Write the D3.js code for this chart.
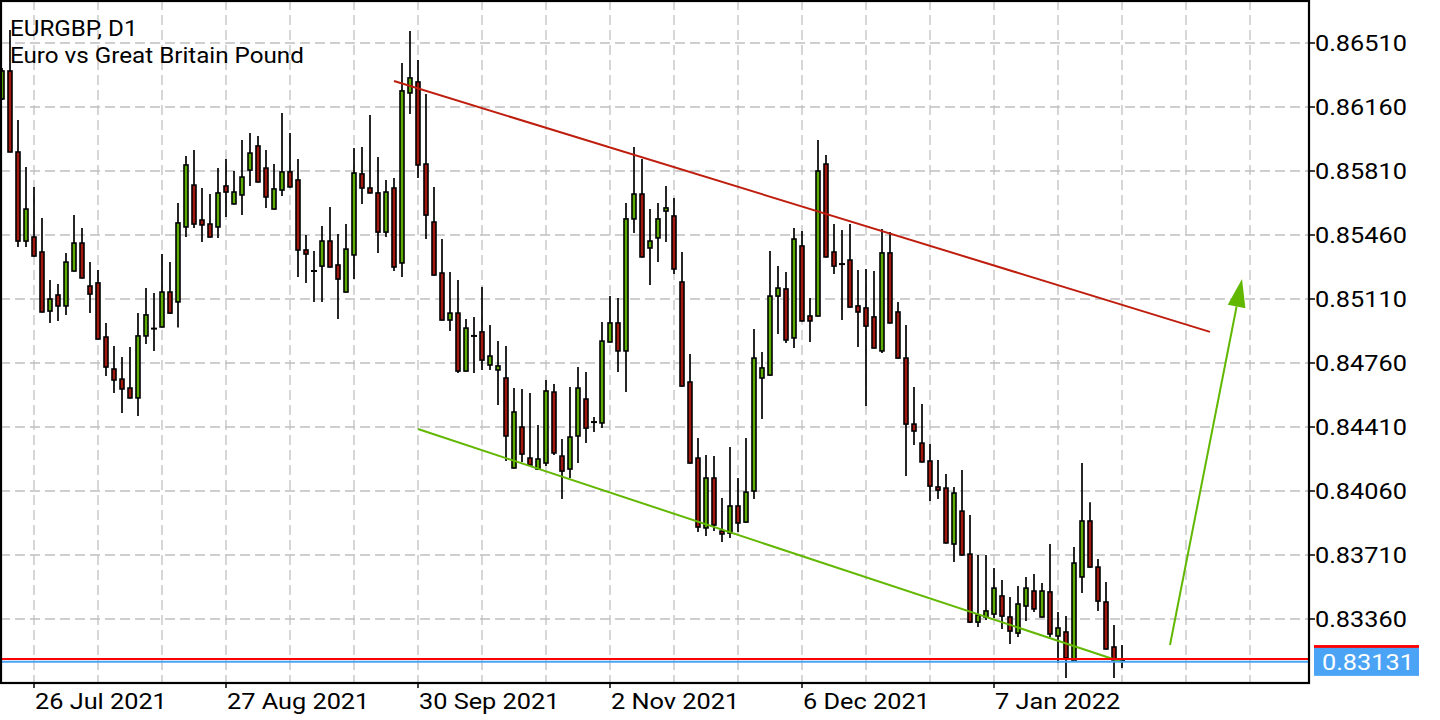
<!DOCTYPE html>
<html>
<head>
<meta charset="utf-8">
<script src="https://cdn.jsdelivr.net/npm/d3@7"></script>
<style>
  body { margin: 0; background: #fff; }
  text { font-family: Roboto, "Noto Sans", sans-serif; }
</style>
</head>
<body>
<svg id="chart" width="1440" height="720"></svg>
<script>
// EURGBP D1 candles
const opens = [
  0.86204, 0.86357, 0.85914, 0.85427, 0.85449, 0.85367, 0.85044, 0.85132, 0.85072, 0.85263,
  0.85416, 0.85181, 0.85198, 0.84902, 0.84727, 0.84672, 0.84623, 0.84569, 0.84908, 0.84948,
  0.84957, 0.85148, 0.85094, 0.85504, 0.85733, 0.85542, 0.85520, 0.85504, 0.85728, 0.85630,
  0.85679, 0.85815, 0.85947, 0.85826, 0.85602, 0.85706, 0.85805, 0.85761, 0.85378, 0.85263,
  0.85290, 0.85427, 0.85296, 0.85148, 0.85351, 0.85794, 0.85717, 0.85690, 0.85476, 0.85717,
  0.85307, 0.86237, 0.86297, 0.85848, 0.85531, 0.85252, 0.84995, 0.85033, 0.84716, 0.84908,
  0.84930, 0.84749, 0.84722, 0.84678, 0.84186, 0.84410, 0.84240, 0.84180, 0.84213, 0.84601,
  0.84251, 0.84180, 0.84361, 0.84563, 0.84437, 0.84432, 0.84875, 0.84979, 0.84826, 0.85548,
  0.85684, 0.85389, 0.85444, 0.85591, 0.85564, 0.85203, 0.84656, 0.84240, 0.83858, 0.84131,
  0.83841, 0.83830, 0.83978, 0.83890, 0.84060, 0.84678, 0.84694, 0.85126, 0.85165, 0.84897,
  0.85400, 0.85017, 0.85017, 0.85848, 0.85367, 0.85301, 0.85323, 0.85072, 0.85061, 0.85012,
  0.84826, 0.85362, 0.85039, 0.84787, 0.84426, 0.84322, 0.84224, 0.84082, 0.84076, 0.83770,
  0.83950, 0.83715, 0.83343, 0.83371, 0.83387, 0.83486, 0.83371, 0.83283, 0.83431, 0.83513,
  0.83371, 0.83508, 0.83267, 0.83289, 0.83130, 0.83590, 0.83896, 0.83644, 0.83453, 0.83207,
  0.83131
];
const highs = [
  0.86373, 0.86581, 0.86089, 0.85832, 0.85723, 0.85553, 0.85214, 0.85192, 0.85362, 0.85569,
  0.85498, 0.85312, 0.85269, 0.84979, 0.84853, 0.84793, 0.84848, 0.85033, 0.85170, 0.85143,
  0.85356, 0.85312, 0.85635, 0.85892, 0.85925, 0.85717, 0.85684, 0.85826, 0.85876, 0.85810,
  0.85980, 0.86018, 0.86001, 0.85925, 0.85848, 0.86127, 0.86018, 0.85876, 0.85460, 0.85373,
  0.85509, 0.85613, 0.85466, 0.85520, 0.85936, 0.85941, 0.86116, 0.85887, 0.85761, 0.85772,
  0.86401, 0.86576, 0.86417, 0.86231, 0.85723, 0.85438, 0.85258, 0.85214, 0.85001, 0.85012,
  0.85176, 0.84968, 0.84880, 0.84853, 0.84623, 0.84618, 0.84596, 0.84421, 0.84667, 0.84645,
  0.84344, 0.84629, 0.84738, 0.84711, 0.84465, 0.84984, 0.85126, 0.85115, 0.85635, 0.85941,
  0.85876, 0.85602, 0.85635, 0.85728, 0.85662, 0.85367, 0.84809, 0.84350, 0.84257, 0.84251,
  0.84022, 0.84301, 0.84131, 0.84350, 0.84946, 0.84820, 0.85373, 0.85290, 0.85258, 0.85498,
  0.85482, 0.85115, 0.85980, 0.85898, 0.85520, 0.85487, 0.85520, 0.85269, 0.85274, 0.85263,
  0.85493, 0.85476, 0.85094, 0.84968, 0.84629, 0.84536, 0.84317, 0.84230, 0.84153, 0.84082,
  0.84175, 0.83929, 0.83710, 0.83710, 0.83639, 0.83573, 0.83480, 0.83540, 0.83590, 0.83606,
  0.83557, 0.83770, 0.83398, 0.83376, 0.83754, 0.84213, 0.83999, 0.83688, 0.83562, 0.83327,
  0.83218
];
const lows = [
  0.86198, 0.85912, 0.85394, 0.85394, 0.85342, 0.85036, 0.84979, 0.84990, 0.85023, 0.85260,
  0.85222, 0.85033, 0.84888, 0.84689, 0.84596, 0.84487, 0.84566, 0.84470, 0.84864, 0.84826,
  0.84954, 0.85030, 0.84954, 0.85449, 0.85498, 0.85422, 0.85446, 0.85444, 0.85558, 0.85627,
  0.85569, 0.85728, 0.85747, 0.85608, 0.85599, 0.85673, 0.85720, 0.85230, 0.85198, 0.85094,
  0.85094, 0.85282, 0.85001, 0.85145, 0.85219, 0.85630, 0.85687, 0.85362, 0.85449, 0.85263,
  0.85230, 0.86122, 0.85772, 0.85438, 0.85238, 0.84992, 0.84935, 0.84705, 0.84713, 0.84705,
  0.84722, 0.84722, 0.84530, 0.84224, 0.84183, 0.84219, 0.84199, 0.84175, 0.84197, 0.84257,
  0.84016, 0.84131, 0.84213, 0.84322, 0.84383, 0.84404, 0.84872, 0.84711, 0.84601, 0.85471,
  0.85337, 0.85187, 0.85312, 0.85422, 0.85247, 0.84631, 0.84210, 0.83836, 0.83814, 0.83841,
  0.83781, 0.83803, 0.83836, 0.83887, 0.84016, 0.84454, 0.84691, 0.84919, 0.84869, 0.84842,
  0.84987, 0.84875, 0.85014, 0.85337, 0.85247, 0.84995, 0.85063, 0.84848, 0.84525, 0.84839,
  0.84815, 0.84976, 0.84784, 0.84142, 0.84312, 0.84216, 0.84005, 0.84016, 0.83773, 0.83672,
  0.83707, 0.83340, 0.83316, 0.83354, 0.83365, 0.83305, 0.83223, 0.83261, 0.83349, 0.83398,
  0.83368, 0.83261, 0.83119, 0.83037, 0.83127, 0.83502, 0.83641, 0.83404, 0.83193, 0.83037,
  0.83092
];
const closes = [
  0.86357, 0.85914, 0.85427, 0.85602, 0.85345, 0.85039, 0.85110, 0.85072, 0.85312, 0.85416,
  0.85225, 0.85137, 0.84891, 0.84738, 0.84667, 0.84618, 0.84569, 0.84908, 0.85023, 0.84948,
  0.85148, 0.85033, 0.85526, 0.85843, 0.85520, 0.85515, 0.85449, 0.85690, 0.85695, 0.85695,
  0.85777, 0.85908, 0.85750, 0.85668, 0.85712, 0.85805, 0.85723, 0.85378, 0.85356, 0.85263,
  0.85427, 0.85285, 0.85219, 0.85383, 0.85799, 0.85717, 0.85690, 0.85476, 0.85695, 0.85285,
  0.86248, 0.86319, 0.85843, 0.85569, 0.85241, 0.84995, 0.85033, 0.84716, 0.84951, 0.84908,
  0.84776, 0.84798, 0.84744, 0.84361, 0.84492, 0.84262, 0.84202, 0.84235, 0.84607, 0.84268,
  0.84169, 0.84355, 0.84623, 0.84404, 0.84437, 0.84880, 0.84979, 0.84826, 0.85548, 0.85684,
  0.85340, 0.85427, 0.85548, 0.85608, 0.85274, 0.84634, 0.84213, 0.83863, 0.84131, 0.83874,
  0.83825, 0.83978, 0.83885, 0.84054, 0.84787, 0.84733, 0.85126, 0.85170, 0.84886, 0.85438,
  0.84990, 0.84990, 0.85810, 0.85340, 0.85290, 0.85301, 0.85066, 0.85039, 0.84962, 0.84842,
  0.85362, 0.84979, 0.84787, 0.84426, 0.84388, 0.84219, 0.84087, 0.84065, 0.83776, 0.84049,
  0.83710, 0.83343, 0.83382, 0.83404, 0.83529, 0.83376, 0.83294, 0.83442, 0.83529, 0.83415,
  0.83513, 0.83278, 0.83311, 0.83147, 0.83666, 0.83896, 0.83644, 0.83458, 0.83196, 0.83136,
  0.83131
];

const priceTicks = [0.86510, 0.86160, 0.85810, 0.85460, 0.85110, 0.84760, 0.84410, 0.84060, 0.83710, 0.83360];
const dateTickBars = [4, 28, 52, 76, 100, 124];
const dateTickLabels = ["26 Jul 2021", "27 Aug 2021", "30 Sep 2021", "2 Nov 2021", "6 Dec 2021", "7 Jan 2022"];

const bid = 0.83131;
const ask = 0.83141;

// drawn objects: [bar, price] pairs
const resistance = [[49, 0.86302], [151, 0.84930]];
const support = [[52, 0.84399], [140, 0.83125]];
const arrowLine = [[146, 0.83218], [155, 0.85219]];

const W = 1440, H = 720;
const plotRight = 1309, plotBottom = 683;
const upColor = "#5cad00", downColor = "#a3190f";
const stretch = "scale(1.15,1)"; // terminal font is rendered wide

const svg = d3.select("#chart");

const x = d3.scaleLinear().domain([0, 140]).range([2, 1122]);
const y = d3.scaleLinear().domain([0.83360, 0.86510]).range([619, 43]);

svg.append("defs").append("clipPath").attr("id", "plot")
  .append("rect").attr("x", 1).attr("y", 1)
  .attr("width", plotRight - 1).attr("height", plotBottom - 1);

const plot = svg.append("g").attr("clip-path", "url(#plot)");

// grid
const gridBars = d3.range(4, 160, 8);
plot.selectAll(".vgrid").data(gridBars).enter().append("line")
  .attr("x1", d => x(d)).attr("x2", d => x(d))
  .attr("y1", 0).attr("y2", plotBottom)
  .attr("stroke", "#c0c0c0").attr("stroke-width", 1.3)
  .attr("stroke-dasharray", "10,5");

plot.selectAll(".hgrid").data(priceTicks).enter().append("line")
  .attr("x1", 0).attr("x2", plotRight)
  .attr("y1", d => y(d)).attr("y2", d => y(d))
  .attr("stroke", "#c0c0c0").attr("stroke-width", 1.3)
  .attr("stroke-dasharray", "10,5");

// candles
const bars = opens.map((o, i) => ({ i, o, h: highs[i], l: lows[i], c: closes[i] }));

const candle = plot.selectAll(".candle").data(bars).enter().append("g");

candle.append("line")
  .attr("x1", d => x(d.i)).attr("x2", d => x(d.i))
  .attr("y1", d => y(d.h)).attr("y2", d => y(d.l))
  .attr("stroke", "#000").attr("stroke-width", 1.7);

candle.filter(d => d.o !== d.c).append("rect")
  .attr("x", d => x(d.i) - 2)
  .attr("width", 4)
  .attr("y", d => y(Math.max(d.o, d.c)))
  .attr("height", d => Math.abs(y(d.o) - y(d.c)))
  .attr("fill", d => d.c > d.o ? upColor : downColor)
  .attr("stroke", "#000").attr("stroke-width", 1.6);

candle.filter(d => d.o === d.c).append("line")
  .attr("x1", d => x(d.i) - 3).attr("x2", d => x(d.i) + 3)
  .attr("y1", d => y(d.o)).attr("y2", d => y(d.o))
  .attr("stroke", "#000").attr("stroke-width", 2);

// trend lines
const pt = p => [x(p[0]), y(p[1])];

plot.append("line")
  .attr("x1", pt(resistance[0])[0]).attr("y1", pt(resistance[0])[1])
  .attr("x2", pt(resistance[1])[0]).attr("y2", pt(resistance[1])[1])
  .attr("stroke", "#be1e0e").attr("stroke-width", 2);

plot.append("line")
  .attr("x1", pt(support[0])[0]).attr("y1", pt(support[0])[1])
  .attr("x2", pt(support[1])[0]).attr("y2", pt(support[1])[1])
  .attr("stroke", "#62b800").attr("stroke-width", 2);

// arrow
const [a0, a1] = arrowLine.map(pt);
const len = Math.hypot(a1[0] - a0[0], a1[1] - a0[1]);
const ux = (a1[0] - a0[0]) / len, uy = (a1[1] - a0[1]) / len;
const headLen = 28, headHalf = 9;
const bx = a1[0] - ux * headLen, by = a1[1] - uy * headLen;

plot.append("line")
  .attr("x1", a0[0]).attr("y1", a0[1])
  .attr("x2", bx).attr("y2", by)
  .attr("stroke", "#62b800").attr("stroke-width", 2);

plot.append("path")
  .attr("d", d3.line()([
    a1,
    [bx - uy * headHalf, by + ux * headHalf],
    [bx + uy * headHalf, by - ux * headHalf]
  ]) + "Z")
  .attr("fill", "#62b800");

// bid / ask lines
plot.append("line")
  .attr("x1", 0).attr("x2", plotRight)
  .attr("y1", y(ask)).attr("y2", y(ask))
  .attr("stroke", "#ff0000").attr("stroke-width", 2);

plot.append("line")
  .attr("x1", 0).attr("x2", plotRight)
  .attr("y1", y(bid) + 1).attr("y2", y(bid) + 1)
  .attr("stroke", "#4aa3f5").attr("stroke-width", 2);

// frame
svg.append("rect")
  .attr("x", 1).attr("y", 1)
  .attr("width", plotRight - 1).attr("height", plotBottom - 1)
  .attr("fill", "none").attr("stroke", "#000").attr("stroke-width", 2.2);

// price axis
svg.selectAll(".ptick").data(priceTicks).enter().append("line")
  .attr("x1", plotRight).attr("x2", plotRight + 6)
  .attr("y1", d => y(d)).attr("y2", d => y(d))
  .attr("stroke", "#000").attr("stroke-width", 1.5);

svg.selectAll(".plabel").data(priceTicks).enter().append("text")
  .attr("transform", d => `translate(1315,${y(d) + 8}) ${stretch}`)
  .attr("font-size", 22)
  .attr("fill", "#000")
  .text(d => d.toFixed(5));

// ask label sits behind the bid label
svg.append("rect")
  .attr("x", 1314).attr("width", 105)
  .attr("y", y(ask) - 14).attr("height", 28)
  .attr("fill", "#ff0000");

svg.append("rect")
  .attr("x", 1314).attr("width", 105)
  .attr("y", y(bid) - 13).attr("height", 28)
  .attr("fill", "#4aa3f5");

svg.append("text")
  .attr("transform", `translate(1322,${y(bid) + 9}) ${stretch}`)
  .attr("font-size", 22)
  .attr("fill", "#fff")
  .text(bid.toFixed(5));

// time axis
svg.selectAll(".dtick").data(dateTickBars).enter().append("line")
  .attr("x1", d => x(d)).attr("x2", d => x(d))
  .attr("y1", plotBottom).attr("y2", plotBottom + 5)
  .attr("stroke", "#000").attr("stroke-width", 1.5);

svg.selectAll(".dlabel").data(dateTickBars).enter().append("text")
  .attr("transform", d => `translate(${x(d) + 1},709) ${stretch}`)
  .attr("font-size", 22)
  .attr("fill", "#000")
  .text((d, i) => dateTickLabels[i]);

// title
svg.append("text")
  .attr("transform", "translate(10,36) scale(1.1,1)")
  .attr("font-size", 22).attr("fill", "#000")
  .text("EURGBP, D1");

svg.append("text")
  .attr("transform", "translate(10,63) scale(1.1,1)")
  .attr("font-size", 22).attr("fill", "#000")
  .text("Euro vs Great Britain Pound");
</script>
</body>
</html>
